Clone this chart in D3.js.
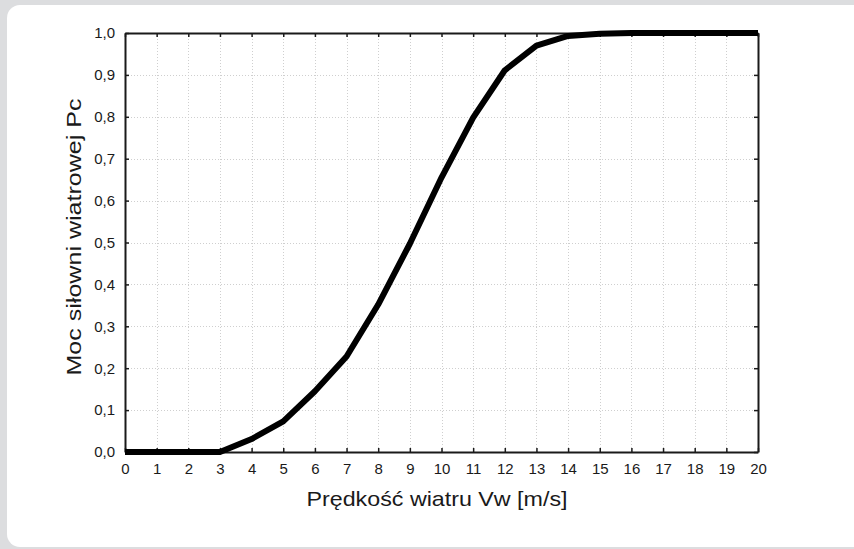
<!DOCTYPE html>
<html>
<head>
<meta charset="utf-8">
<script src="https://cdn.jsdelivr.net/npm/d3@7"></script>
<style>
  html, body { margin: 0; padding: 0; background: #dcdddf; }
  svg { display: block; }
  text { font-family: "Liberation Sans", Arial, sans-serif; fill: #1a1a1a; }
</style>
</head>
<body>
<div id="chart"></div>
<script>
// wind speed [m/s] and normalised power of the wind farm
const speeds = [0, 1, 2, 3, 4, 5, 6, 7, 8, 9, 10, 11, 12, 13, 14, 15, 16, 17, 18, 19, 20];
const power = [0, 0, 0, 0, 0.031, 0.073, 0.145, 0.228, 0.352, 0.497, 0.655, 0.798, 0.911, 0.970, 0.993, 0.998, 1.0, 1.0, 1.0, 1.0, 1.0];

const xTicks = d3.range(0, 21, 1);
const yTicks = d3.range(0, 11, 1).map(d => d / 10);

const xTitle = 'Prędkość wiatru Vw [m/s]';
const yTitle = 'Moc siłowni wiatrowej Pc';

const W = 854, H = 549;
const margin = {top: 33, right: 96, bottom: 97, left: 125};

const svg = d3.select('#chart').append('svg')
    .attr('width', W)
    .attr('height', H);

// white card on grey page
svg.append('rect')
    .attr('x', 7).attr('y', 5)
    .attr('width', W + 10).attr('height', H - 7)
    .attr('rx', 13)
    .attr('fill', '#ffffff');

const x = d3.scaleLinear().domain([0, 20]).range([margin.left, W - margin.right]);
const y = d3.scaleLinear().domain([0, 1]).range([H - margin.bottom, margin.top]);

const fmt = d => d3.format('.1f')(d).replace('.', ',');

// grid
const grid = svg.append('g')
    .attr('stroke', '#cfcfcf')
    .attr('stroke-width', 1)
    .attr('stroke-dasharray', '1,2');

grid.selectAll('line.gx').data(xTicks.slice(1, -1)).enter().append('line')
    .attr('x1', d => Math.round(x(d)) + 0.5).attr('x2', d => Math.round(x(d)) + 0.5)
    .attr('y1', y(1)).attr('y2', y(0));

grid.selectAll('line.gy').data(yTicks.slice(1, -1)).enter().append('line')
    .attr('y1', d => Math.round(y(d)) + 0.5).attr('y2', d => Math.round(y(d)) + 0.5)
    .attr('x1', x(0)).attr('x2', x(20));

// axes with inward ticks on all four sides
const axBottom = svg.append('g')
    .attr('transform', `translate(0,${y(0)})`)
    .call(d3.axisBottom(x).tickValues(xTicks).tickSizeInner(-4).tickSizeOuter(0).tickPadding(11));
const axTop = svg.append('g')
    .attr('transform', `translate(0,${y(1)})`)
    .call(d3.axisTop(x).tickValues(xTicks).tickSizeInner(-4).tickSizeOuter(0).tickFormat(''));
const axLeft = svg.append('g')
    .attr('transform', `translate(${x(0)},0)`)
    .call(d3.axisLeft(y).tickValues(yTicks).tickSizeInner(-4).tickSizeOuter(0).tickPadding(10).tickFormat(fmt));
const axRight = svg.append('g')
    .attr('transform', `translate(${x(20)},0)`)
    .call(d3.axisRight(y).tickValues(yTicks).tickSizeInner(-4).tickSizeOuter(0).tickFormat(''));

[axBottom, axTop, axLeft, axRight].forEach(g => {
    g.attr('font-size', 15).attr('font-family', '"Liberation Sans", Arial, sans-serif');
    g.select('.domain').attr('stroke', '#1a1a1a').attr('stroke-width', 2);
    g.selectAll('.tick line').attr('stroke', '#1a1a1a').attr('stroke-width', 1.5);
    g.selectAll('.tick text').attr('fill', '#1a1a1a');
});

// curve
svg.append('path')
    .datum(speeds.map((s, i) => [s, power[i]]))
    .attr('fill', 'none')
    .attr('stroke', '#000')
    .attr('stroke-width', 6)
    .attr('stroke-linejoin', 'round')
    .attr('d', d3.line().x(d => x(d[0])).y(d => y(d[1])));

// titles
svg.append('text')
    .attr('x', 437).attr('y', 506)
    .attr('text-anchor', 'middle')
    .attr('font-size', 21)
    .attr('textLength', 261)
    .attr('lengthAdjust', 'spacingAndGlyphs')
    .text(xTitle);

svg.append('text')
    .attr('transform', `translate(81,237) rotate(-90)`)
    .attr('text-anchor', 'middle')
    .attr('font-size', 21)
    .attr('textLength', 277)
    .attr('lengthAdjust', 'spacingAndGlyphs')
    .text(yTitle);
</script>
</body>
</html>
